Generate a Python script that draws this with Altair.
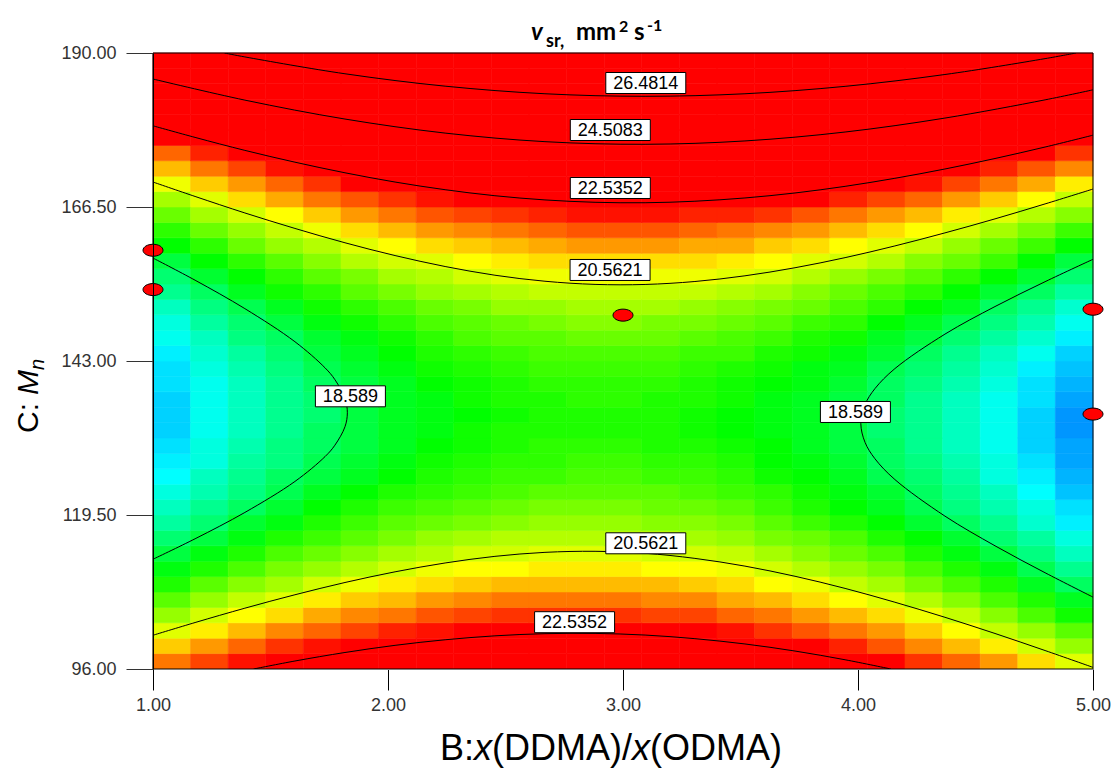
import altair as alt
import pandas as pd

# ---------------- values ----------------
# B : x(DDMA)/x(ODMA) positions of the colour cells (cell centres)
b_levels = [1.08, 1.24, 1.40, 1.56, 1.72, 1.88, 2.04, 2.20, 2.36, 2.52, 2.68, 2.84, 3.00,
            3.16, 3.32, 3.48, 3.64, 3.80, 3.96, 4.12, 4.28, 4.44, 4.60, 4.76, 4.92]
# C : Mn positions of the colour cells (cell centres, bottom to top)
c_levels = [97.175, 99.525, 101.875, 104.225, 106.575, 108.925, 111.275, 113.625, 115.975, 118.325,
            120.675, 123.025, 125.375, 127.725, 130.075, 132.425, 134.775, 137.125, 139.475, 141.825,
            144.175, 146.525, 148.875, 151.225, 153.575, 155.925, 158.275, 160.625, 162.975, 165.325,
            167.675, 170.025, 172.375, 174.725, 177.075, 179.425, 181.775, 184.125, 186.475, 188.825]
# v_sr (mm2/s) estimated for every cell, one row per C level (bottom row first)
surface_rows = [
    [21.6, 21.9, 22.2, 22.5, 22.7, 22.9, 23.1, 23.2, 23.3, 23.4, 23.4, 23.4, 23.4, 23.3, 23.3, 23.1, 23.0, 22.8, 22.6, 22.3, 22.0, 21.7, 21.4, 21.0, 20.6],
    [21.1, 21.4, 21.7, 22.0, 22.2, 22.4, 22.6, 22.7, 22.8, 22.9, 22.9, 22.9, 22.9, 22.8, 22.7, 22.6, 22.5, 22.3, 22.1, 21.8, 21.5, 21.2, 20.9, 20.5, 20.1],
    [20.6, 20.9, 21.2, 21.5, 21.7, 21.9, 22.1, 22.2, 22.3, 22.4, 22.4, 22.5, 22.4, 22.4, 22.3, 22.2, 22.0, 21.8, 21.6, 21.4, 21.1, 20.8, 20.4, 20.1, 19.7],
    [20.1, 20.5, 20.8, 21.0, 21.3, 21.5, 21.6, 21.8, 21.9, 22.0, 22.0, 22.0, 22.0, 21.9, 21.9, 21.7, 21.6, 21.4, 21.2, 21.0, 20.7, 20.4, 20.0, 19.6, 19.2],
    [19.7, 20.1, 20.4, 20.6, 20.9, 21.1, 21.2, 21.4, 21.5, 21.6, 21.6, 21.6, 21.6, 21.5, 21.5, 21.3, 21.2, 21.0, 20.8, 20.6, 20.3, 20.0, 19.6, 19.3, 18.9],
    [19.3, 19.7, 20.0, 20.2, 20.5, 20.7, 20.9, 21.0, 21.1, 21.2, 21.2, 21.2, 21.2, 21.2, 21.1, 21.0, 20.8, 20.7, 20.4, 20.2, 19.9, 19.6, 19.3, 18.9, 18.5],
    [19.0, 19.3, 19.6, 19.9, 20.1, 20.3, 20.5, 20.7, 20.8, 20.8, 20.9, 20.9, 20.9, 20.8, 20.8, 20.7, 20.5, 20.3, 20.1, 19.9, 19.6, 19.3, 19.0, 18.6, 18.2],
    [18.7, 19.0, 19.3, 19.6, 19.8, 20.0, 20.2, 20.3, 20.5, 20.5, 20.6, 20.6, 20.6, 20.5, 20.5, 20.4, 20.2, 20.0, 19.8, 19.6, 19.3, 19.0, 18.7, 18.3, 17.9],
    [18.4, 18.7, 19.0, 19.3, 19.5, 19.7, 19.9, 20.1, 20.2, 20.3, 20.3, 20.3, 20.3, 20.3, 20.2, 20.1, 19.9, 19.8, 19.6, 19.3, 19.1, 18.8, 18.4, 18.1, 17.7],
    [18.1, 18.4, 18.8, 19.0, 19.3, 19.5, 19.7, 19.8, 19.9, 20.0, 20.1, 20.1, 20.1, 20.0, 20.0, 19.9, 19.7, 19.5, 19.3, 19.1, 18.8, 18.5, 18.2, 17.8, 17.4],
    [17.9, 18.2, 18.5, 18.8, 19.1, 19.3, 19.5, 19.6, 19.7, 19.8, 19.9, 19.9, 19.9, 19.8, 19.8, 19.7, 19.5, 19.3, 19.1, 18.9, 18.6, 18.3, 18.0, 17.7, 17.3],
    [17.7, 18.0, 18.3, 18.6, 18.9, 19.1, 19.3, 19.4, 19.5, 19.6, 19.7, 19.7, 19.7, 19.7, 19.6, 19.5, 19.4, 19.2, 19.0, 18.8, 18.5, 18.2, 17.9, 17.5, 17.1],
    [17.5, 17.9, 18.2, 18.5, 18.7, 18.9, 19.1, 19.3, 19.4, 19.5, 19.5, 19.6, 19.6, 19.5, 19.5, 19.4, 19.2, 19.1, 18.9, 18.6, 18.4, 18.1, 17.7, 17.4, 17.0],
    [17.4, 17.7, 18.1, 18.3, 18.6, 18.8, 19.0, 19.2, 19.3, 19.4, 19.4, 19.5, 19.5, 19.4, 19.4, 19.3, 19.1, 19.0, 18.8, 18.5, 18.3, 18.0, 17.7, 17.3, 16.9],
    [17.3, 17.7, 18.0, 18.3, 18.5, 18.7, 18.9, 19.1, 19.2, 19.3, 19.4, 19.4, 19.4, 19.3, 19.3, 19.2, 19.1, 18.9, 18.7, 18.5, 18.2, 17.9, 17.6, 17.2, 16.9],
    [17.2, 17.6, 17.9, 18.2, 18.5, 18.7, 18.9, 19.0, 19.2, 19.3, 19.3, 19.3, 19.3, 19.3, 19.2, 19.1, 19.0, 18.9, 18.7, 18.4, 18.2, 17.9, 17.6, 17.2, 16.8],
    [17.2, 17.6, 17.9, 18.2, 18.4, 18.7, 18.9, 19.0, 19.1, 19.2, 19.3, 19.3, 19.3, 19.3, 19.2, 19.1, 19.0, 18.9, 18.7, 18.4, 18.2, 17.9, 17.6, 17.2, 16.8],
    [17.2, 17.6, 17.9, 18.2, 18.4, 18.7, 18.9, 19.0, 19.2, 19.3, 19.3, 19.4, 19.4, 19.3, 19.3, 19.2, 19.0, 18.9, 18.7, 18.5, 18.2, 17.9, 17.6, 17.3, 16.9],
    [17.3, 17.6, 17.9, 18.2, 18.5, 18.7, 18.9, 19.1, 19.2, 19.3, 19.4, 19.4, 19.4, 19.4, 19.3, 19.2, 19.1, 19.0, 18.8, 18.5, 18.3, 18.0, 17.7, 17.3, 17.0],
    [17.3, 17.7, 18.0, 18.3, 18.6, 18.8, 19.0, 19.2, 19.3, 19.4, 19.5, 19.5, 19.5, 19.5, 19.4, 19.3, 19.2, 19.0, 18.9, 18.6, 18.4, 18.1, 17.8, 17.4, 17.1],
    [17.4, 17.8, 18.1, 18.4, 18.7, 18.9, 19.1, 19.3, 19.4, 19.5, 19.6, 19.6, 19.6, 19.6, 19.5, 19.5, 19.3, 19.2, 19.0, 18.8, 18.5, 18.2, 17.9, 17.6, 17.2],
    [17.6, 17.9, 18.3, 18.5, 18.8, 19.0, 19.2, 19.4, 19.6, 19.7, 19.7, 19.8, 19.8, 19.8, 19.7, 19.6, 19.5, 19.3, 19.2, 18.9, 18.7, 18.4, 18.1, 17.8, 17.4],
    [17.7, 18.1, 18.4, 18.7, 19.0, 19.2, 19.4, 19.6, 19.7, 19.8, 19.9, 20.0, 20.0, 19.9, 19.9, 19.8, 19.7, 19.5, 19.4, 19.1, 18.9, 18.6, 18.3, 18.0, 17.6],
    [17.9, 18.3, 18.6, 18.9, 19.2, 19.4, 19.6, 19.8, 19.9, 20.1, 20.1, 20.2, 20.2, 20.2, 20.1, 20.0, 19.9, 19.8, 19.6, 19.4, 19.1, 18.9, 18.5, 18.2, 17.8],
    [18.2, 18.5, 18.9, 19.2, 19.4, 19.7, 19.9, 20.1, 20.2, 20.3, 20.4, 20.4, 20.4, 20.4, 20.4, 20.3, 20.2, 20.0, 19.8, 19.6, 19.4, 19.1, 18.8, 18.5, 18.1],
    [18.4, 18.8, 19.1, 19.4, 19.7, 19.9, 20.2, 20.3, 20.5, 20.6, 20.7, 20.7, 20.7, 20.7, 20.7, 20.6, 20.5, 20.3, 20.1, 19.9, 19.7, 19.4, 19.1, 18.8, 18.4],
    [18.7, 19.1, 19.4, 19.7, 20.0, 20.3, 20.5, 20.6, 20.8, 20.9, 21.0, 21.0, 21.0, 21.0, 21.0, 20.9, 20.8, 20.6, 20.5, 20.3, 20.0, 19.8, 19.5, 19.1, 18.7],
    [19.1, 19.4, 19.8, 20.1, 20.3, 20.6, 20.8, 21.0, 21.1, 21.2, 21.3, 21.4, 21.4, 21.4, 21.3, 21.3, 21.1, 21.0, 20.8, 20.6, 20.4, 20.1, 19.8, 19.5, 19.1],
    [19.4, 19.8, 20.1, 20.4, 20.7, 21.0, 21.2, 21.4, 21.5, 21.6, 21.7, 21.8, 21.8, 21.8, 21.7, 21.6, 21.5, 21.4, 21.2, 21.0, 20.8, 20.5, 20.2, 19.9, 19.5],
    [19.8, 20.2, 20.5, 20.8, 21.1, 21.4, 21.6, 21.8, 21.9, 22.0, 22.1, 22.2, 22.2, 22.2, 22.1, 22.1, 22.0, 21.8, 21.6, 21.4, 21.2, 20.9, 20.6, 20.3, 20.0],
    [20.2, 20.6, 21.0, 21.3, 21.6, 21.8, 22.0, 22.2, 22.4, 22.5, 22.6, 22.6, 22.6, 22.6, 22.6, 22.5, 22.4, 22.3, 22.1, 21.9, 21.7, 21.4, 21.1, 20.8, 20.4],
    [20.7, 21.1, 21.4, 21.7, 22.0, 22.3, 22.5, 22.7, 22.8, 22.9, 23.0, 23.1, 23.1, 23.1, 23.1, 23.0, 22.9, 22.8, 22.6, 22.4, 22.2, 21.9, 21.6, 21.3, 20.9],
    [21.2, 21.6, 21.9, 22.2, 22.5, 22.8, 23.0, 23.2, 23.3, 23.5, 23.5, 23.6, 23.6, 23.6, 23.6, 23.5, 23.4, 23.3, 23.1, 22.9, 22.7, 22.4, 22.1, 21.8, 21.5],
    [21.7, 22.1, 22.5, 22.8, 23.1, 23.3, 23.5, 23.7, 23.9, 24.0, 24.1, 24.2, 24.2, 24.2, 24.1, 24.1, 24.0, 23.8, 23.7, 23.5, 23.3, 23.0, 22.7, 22.4, 22.0],
    [22.3, 22.7, 23.0, 23.3, 23.6, 23.9, 24.1, 24.3, 24.4, 24.6, 24.7, 24.7, 24.8, 24.8, 24.7, 24.7, 24.6, 24.4, 24.3, 24.1, 23.8, 23.6, 23.3, 23.0, 22.6],
    [22.9, 23.3, 23.6, 23.9, 24.2, 24.5, 24.7, 24.9, 25.0, 25.2, 25.3, 25.3, 25.4, 25.4, 25.3, 25.3, 25.2, 25.0, 24.9, 24.7, 24.5, 24.2, 23.9, 23.6, 23.3],
    [23.5, 23.9, 24.2, 24.6, 24.8, 25.1, 25.3, 25.5, 25.7, 25.8, 25.9, 26.0, 26.0, 26.0, 26.0, 25.9, 25.8, 25.7, 25.5, 25.4, 25.1, 24.9, 24.6, 24.3, 23.9],
    [24.2, 24.5, 24.9, 25.2, 25.5, 25.8, 26.0, 26.2, 26.4, 26.5, 26.6, 26.7, 26.7, 26.7, 26.7, 26.6, 26.5, 26.4, 26.2, 26.0, 25.8, 25.6, 25.3, 25.0, 24.6],
    [24.8, 25.2, 25.6, 25.9, 26.2, 26.5, 26.7, 26.9, 27.1, 27.2, 27.3, 27.4, 27.4, 27.4, 27.4, 27.3, 27.2, 27.1, 26.9, 26.8, 26.5, 26.3, 26.0, 25.7, 25.3],
    [25.6, 26.0, 26.3, 26.6, 26.9, 27.2, 27.4, 27.6, 27.8, 27.9, 28.0, 28.1, 28.1, 28.1, 28.1, 28.1, 28.0, 27.9, 27.7, 27.5, 27.3, 27.0, 26.8, 26.5, 26.1],
]

# contour lines, (B, C) points
contour_18589_left = [(1.000, 158.71), (1.179, 155.33), (1.391, 150.99), (1.604, 145.94), (1.732, 141.96),
                      (1.774, 140.16), (1.817, 137.27), (1.827, 135.10), (1.817, 132.97), (1.774, 130.15),
                      (1.732, 128.41), (1.604, 124.62), (1.391, 119.89), (1.179, 115.87), (1.000, 112.75)]
contour_18589_right = [(5.000, 158.52), (4.796, 155.10), (4.583, 151.31), (4.370, 147.10), (4.157, 141.84),
                       (4.072, 138.78), (4.030, 136.35), (4.012, 133.48), (4.030, 130.58), (4.072, 128.09),
                       (4.157, 124.91), (4.370, 119.33), (4.583, 114.80), (4.796, 110.69), (5.000, 106.97)]
trace_b = [1.000, 1.179, 1.391, 1.604, 1.817, 2.030, 2.243, 2.455, 2.668, 2.881,
           3.094, 3.306, 3.519, 3.732, 3.945, 4.157, 4.370, 4.583, 4.796, 5.000]
contour_20562_top_c = [170.31, 168.11, 165.59, 163.23, 161.04, 159.09, 157.42, 156.09, 155.17, 154.69,
                       154.68, 155.13, 156.00, 157.23, 158.77, 160.56, 162.55, 164.69, 166.97, 169.24]
contour_20562_bottom_c = [101.15, 103.09, 105.28, 107.33, 109.20, 110.83, 112.18, 113.19, 113.80, 113.96,
                          113.66, 112.88, 111.70, 110.15, 108.30, 106.19, 103.89, 101.42, 98.82, 96.25]
contour_22535_top_c = [178.89, 177.12, 175.14, 173.34, 171.72, 170.31, 169.14, 168.22, 167.58, 167.22,
                       167.15, 167.38, 167.88, 168.64, 169.65, 170.88, 172.30, 173.90, 175.65, 177.46]
contour_22535_bottom = [(1.428, 96.00), (1.604, 97.22), (1.817, 98.52), (2.030, 99.61), (2.243, 100.46),
                        (2.455, 101.06), (2.668, 101.39), (2.881, 101.43), (3.094, 101.18), (3.306, 100.63),
                        (3.519, 99.82), (3.732, 98.74), (3.945, 97.41), (4.140, 96.00)]
contour_24508 = [(1.000, 186.03), (1.391, 182.81), (1.817, 179.92), (2.243, 177.78), (2.668, 176.47),
                 (3.094, 176.07), (3.519, 176.58), (3.945, 177.94), (4.370, 180.07), (4.796, 182.85),
                 (5.000, 184.38)]
contour_26481 = [(1.304, 190.00), (1.391, 189.40), (1.817, 186.83), (2.243, 184.94), (2.668, 183.78),
                 (3.094, 183.39), (3.519, 183.78), (3.945, 184.91), (4.370, 186.72), (4.796, 189.14),
                 (4.928, 190.00)]

# contour labels
label_text = ["26.4814", "24.5083", "22.5352", "20.5621", "20.5621", "22.5352", "18.589", "18.589"]
label_b = [3.097, 2.946, 2.946, 2.945, 3.097, 2.794, 1.840, 3.989]
label_c = [185.42, 178.25, 169.40, 156.89, 115.18, 103.14, 137.61, 135.22]

# design points
point_b = [1.0, 1.0, 3.0, 5.0, 5.0]
point_c = [159.9, 153.9, 150.0, 150.9, 134.9]

# ---------------- tables ----------------
hb = (b_levels[1] - b_levels[0]) / 2
hc = (c_levels[1] - c_levels[0]) / 2
cells = []
for c, row in zip(c_levels, surface_rows):
    for b, v in zip(b_levels, row):
        cells.append({"b0": b - hb, "b1": b + hb, "c0": c - hc, "c1": c + hc, "v": v})
grid_df = pd.DataFrame(cells)

lines = {
    "18.589 left": contour_18589_left,
    "18.589 right": contour_18589_right,
    "20.5621 top": list(zip(trace_b, contour_20562_top_c)),
    "20.5621 bottom": list(zip(trace_b, contour_20562_bottom_c)),
    "22.5352 top": list(zip(trace_b, contour_22535_top_c)),
    "22.5352 bottom": contour_22535_bottom,
    "24.5083": contour_24508,
    "26.4814": contour_26481,
}
rows = []
for name, pts in lines.items():
    for k, (b, c) in enumerate(pts):
        rows.append({"line": name, "k": k, "b": b, "c": c})
line_df = pd.DataFrame(rows)

lab_df = pd.DataFrame({"t": label_text, "b": label_b, "c": label_c})
lab_df["n"] = lab_df["t"].str.len()
pt_df = pd.DataFrame({"b": point_b, "c": point_c})

# ---------------- chart ----------------
W, H = 940, 616
xs = alt.Scale(domain=[1, 5], nice=False, zero=False)
ys = alt.Scale(domain=[96, 190], nice=False, zero=False)
x_axis = alt.Axis(values=[1, 2, 3, 4, 5], format=".2f", title=None, grid=False,
                  tickSize=21, tickColor="#000000", domainColor="#808080",
                  labelFont="Liberation Sans", labelFontSize=18, labelColor="#333333",
                  labelPadding=6, labelFlush=False, labelOverlap=False, zindex=1)
y_axis = alt.Axis(values=[96, 119.5, 143, 166.5, 190], format=".2f", title=None, grid=False,
                  tickSize=27, tickColor="#333333", domainColor="#000000",
                  labelFont="Liberation Sans", labelFontSize=18, labelColor="#333333",
                  labelPadding=10, labelFlush=False, labelOverlap=False, zindex=1)
cscale = alt.Scale(domain=[15.8, 17.5, 19.1, 20.8, 22.3],
                   range=["#0000ff", "#00ffff", "#00ff00", "#ffff00", "#ff0000"],
                   clamp=True, interpolate="rgb")

heat = alt.Chart(grid_df).mark_rect(strokeWidth=0.6).encode(
    x=alt.X("b0:Q", scale=xs, axis=x_axis), x2="b1:Q",
    y=alt.Y("c0:Q", scale=ys, axis=y_axis), y2="c1:Q",
    fill=alt.Fill("v:Q", scale=cscale, legend=None),
    stroke=alt.Stroke("v:Q", scale=cscale, legend=None),
)

contours = alt.Chart(line_df).mark_line(color="#000000", strokeWidth=1,
                                        interpolate="catmull-rom", clip=True).encode(
    x=alt.X("b:Q", scale=xs, axis=x_axis),
    y=alt.Y("c:Q", scale=ys, axis=y_axis),
    detail="line:N", order="k:Q",
)

def label_boxes(n, half_w):
    return alt.Chart(lab_df).transform_filter(alt.datum.n == n).mark_rect(
        fill="#ffffff", stroke="#000000", strokeWidth=1,
        xOffset=-half_w, x2Offset=half_w, yOffset=-10.5, y2Offset=10.5).encode(
        x=alt.X("b:Q", scale=xs, axis=x_axis), x2="b:Q",
        y=alt.Y("c:Q", scale=ys, axis=y_axis), y2="c:Q")

boxes7 = label_boxes(7, 40)
boxes6 = label_boxes(6, 35)

labels = alt.Chart(lab_df).mark_text(font="Liberation Sans", fontSize=18, color="#000000",
                                     align="center", baseline="middle", dy=1).encode(
    x=alt.X("b:Q", scale=xs, axis=x_axis),
    y=alt.Y("c:Q", scale=ys, axis=y_axis),
    text="t:N")

ellipse = "M-1,0A1,0.6,0,1,1,1,0A1,0.6,0,1,1,-1,0Z"
points = alt.Chart(pt_df).mark_point(shape=ellipse, size=400, filled=True, fill="#ff0000",
                                     stroke="#000000", strokeWidth=1, opacity=1,
                                     fillOpacity=1, clip=False).encode(
    x=alt.X("b:Q", scale=xs, axis=x_axis),
    y=alt.Y("c:Q", scale=ys, axis=y_axis))

frame = alt.Chart(pd.DataFrame({"f": [0]})).mark_rect(filled=False, stroke="#000000",
                                                      strokeWidth=1).encode(
    x=alt.value(0), x2=alt.value(W), y=alt.value(0), y2=alt.value(H))

one = pd.DataFrame({"z": [0]})

def part(txt, x, y, size, font="Liberation Sans", weight="normal", style="normal", angle=0):
    return alt.Chart(one).mark_text(text=txt, font=font, fontSize=size, fontWeight=weight,
                                    fontStyle=style, angle=angle, align="left",
                                    baseline="alphabetic", color="#000000").encode(
        x=alt.value(x), y=alt.value(y))

texts = [
    # title  v_sr, mm^2 s^-1
    part("v", 378, -13, 24, font="Lato", weight="bold", style="italic"),
    part("sr,", 393, -6, 18, font="Lato", weight="bold"),
    part("mm", 423, -13, 24, font="Lato", weight="bold"),
    part("2", 466, -21, 16, font="Lato", weight="bold"),
    part("s", 481, -13, 24, font="Lato", weight="bold"),
    part("-1", 494, -22, 16, font="Lato", weight="bold"),
    # x axis title  B:x(DDMA)/x(ODMA)
    part("B:", 287, 707, 36),
    part("x", 321, 707, 36, style="italic"),
    part("(DDMA)/", 339, 707, 36),
    part("x", 479, 707, 36, style="italic"),
    part("(ODMA)", 497, 707, 36),
    # y axis title  C: M_n  (rotated)
    part("C: ", -115, 380, 30, angle=270),
    part("M", -115, 342, 30, style="italic", angle=270),
    part("n", -109, 317, 20, style="italic", angle=270),
]

chart = alt.layer(heat, contours, boxes7, boxes6, labels, frame, points, *texts).properties(
    width=W, height=H,
    autosize=alt.AutoSizeParams(type="none"),
    padding={"left": 145, "top": 45, "right": 18, "bottom": 104},
    background="#ffffff",
).configure_view(stroke=None)

chart.save("out.html", embed_options={"renderer": "svg", "actions": False})
